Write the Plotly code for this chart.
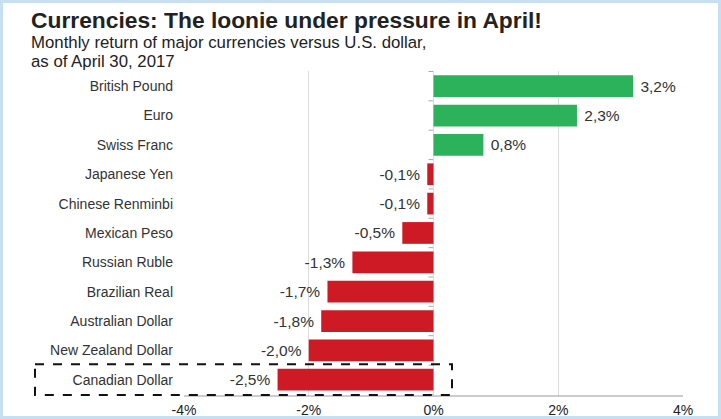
import plotly.graph_objects as go

categories = ["British Pound", "Euro", "Swiss Franc", "Japanese Yen", "Chinese Renminbi",
              "Mexican Peso", "Russian Ruble", "Brazilian Real", "Australian Dollar",
              "New Zealand Dollar", "Canadian Dollar"]
values = [3.2, 2.3, 0.8, -0.1, -0.1, -0.5, -1.3, -1.7, -1.8, -2.0, -2.5]
tick_vals = [-4, -2, 0, 2, 4]
tick_text = ["-4%", "-2%", "0%", "2%", "4%"]

GREEN = "#2bb25a"
RED = "#cd1a24"
colors = [GREEN if v >= 0 else RED for v in values]
NB = "\u00a0"
labels = [(NB + f"{v:.1f}%".replace(".", ",")) if v >= 0
          else (f"{v:.1f}%".replace(".", ",") + NB) for v in values]

W, H = 721, 419
L, R, T, B = 184, 38, 71, 23
pw, ph = W - L - R, H - T - B

def px(x):
    return (x - L) / pw

def py(y):
    return (H - B - y) / ph

FONT = "Liberation Sans, Arial"

fig = go.Figure(go.Bar(
    x=values, y=categories, orientation="h",
    marker=dict(color=colors, line=dict(width=0)),
    text=labels, textposition="outside", cliponaxis=False,
    textfont=dict(size=15.5, color="#333333", family=FONT),
    width=0.74,
))

fig.update_layout(
    width=W, height=H, autosize=False,
    margin=dict(l=L, r=R, t=T, b=B, autoexpand=False),
    paper_bgcolor="white", plot_bgcolor="white",
    showlegend=False,
    font=dict(family=FONT, color="#333333"),
    xaxis=dict(range=[-4, 4], tickvals=tick_vals, ticktext=tick_text,
               showgrid=True, gridcolor="#dcdcdc", gridwidth=1,
               zeroline=False, showline=False, ticks="", automargin=False,
               ticklabelstandoff=4,
               tickfont=dict(size=14, color="#222222")),
    yaxis=dict(autorange="reversed", showgrid=False, ticks="", ticklen=0,
               tickfont=dict(size=14, color="#333333"), showline=False,
               ticklabelstandoff=10, automargin=False),
    uniformtext=dict(mode="show", minsize=8),
)

n = len(categories)
shapes = [
    dict(type="rect", xref="paper", yref="paper",
         x0=px(1.5), x1=px(W - 1.5), y0=py(H - 1.5), y1=py(1.5),
         line=dict(color="#c8dff2", width=3), layer="below"),
    dict(type="line", xref="x", yref="paper", x0=-4, x1=4, y0=0, y1=0,
         line=dict(color="#999999", width=1)),
    dict(type="line", xref="x", yref="y", x0=0, x1=0, y0=-0.5, y1=n - 0.5,
         line=dict(color="#aaaaaa", width=1), layer="below"),
]
for k in range(n + 1):
    shapes.append(dict(type="line", xref="x", yref="y", x0=-0.08, x1=0,
                       y0=k - 0.5, y1=k - 0.5,
                       line=dict(color="#aaaaaa", width=1), layer="below"))
shapes.append(dict(type="rect", xref="paper", yref="y",
                   x0=px(35), x1=px(452), y0=9.47, y1=10.52,
                   line=dict(color="#111111", width=2, dash="dash")))
fig.update_layout(shapes=shapes)

fig.add_annotation(text="<b>Currencies: The loonie under pressure in April!</b>",
                   xref="paper", yref="paper", x=px(29), y=py(20),
                   xanchor="left", yanchor="middle", showarrow=False,
                   font=dict(size=22.8, color="#222222", family=FONT))
fig.add_annotation(text="Monthly return of major currencies versus U.S. dollar,",
                   xref="paper", yref="paper", x=px(29), y=py(42),
                   xanchor="left", yanchor="middle", showarrow=False,
                   font=dict(size=16.8, color="#222222", family=FONT))
fig.add_annotation(text="as of April 30, 2017",
                   xref="paper", yref="paper", x=px(29), y=py(61),
                   xanchor="left", yanchor="middle", showarrow=False,
                   font=dict(size=16.8, color="#222222", family=FONT))

fig.write_html("out.html", config={"displayModeBar": False},
               post_script="document.body.style.margin='0';document.body.style.overflow='hidden';")
